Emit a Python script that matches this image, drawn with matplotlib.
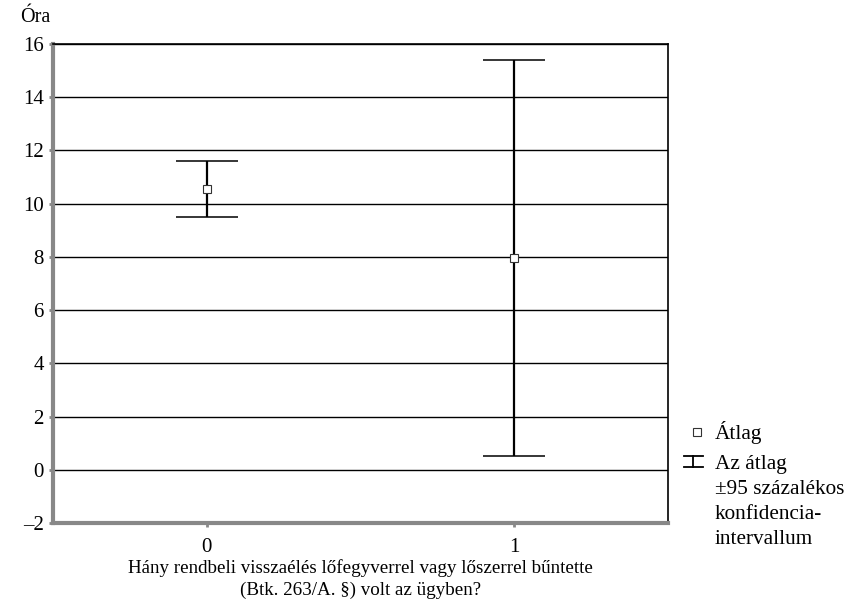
import matplotlib.pyplot as plt
from matplotlib.lines import Line2D

plt.rcParams['font.family'] = ['Liberation Serif', 'DejaVu Serif']
plt.rcParams['font.size'] = 14

groups = [0, 1]
means = [10.55, 7.95]
upper = [11.6, 15.4]
lower = [9.5, 0.5]
yticks = [-2, 0, 2, 4, 6, 8, 10, 12, 14, 16]

fig = plt.figure(figsize=(8.49, 6.08), dpi=100)
ax = fig.add_axes([53 / 849, 85 / 608, 615 / 849, 479 / 608])

err_low = [m - l for m, l in zip(means, lower)]
err_high = [u - m for u, m in zip(upper, means)]
ax.errorbar(groups, means, yerr=[err_low, err_high], fmt='none',
            ecolor='black', elinewidth=1.6, capsize=22, capthick=1.1, zorder=3)
ax.plot(groups, means, 's', markersize=5.5, markerfacecolor='white',
        markeredgecolor='#333333', markeredgewidth=0.8, zorder=4)

ax.set_xlim(-0.5, 1.5)
ax.set_ylim(-2, 16)
ax.set_yticks(yticks)
ax.set_yticklabels([str(t).replace('-', '\u2013') for t in yticks])
ax.set_xticks(groups)
ax.yaxis.grid(True, color='black', linewidth=1.0)
ax.set_axisbelow(True)

for s in ['left', 'bottom']:
    ax.spines[s].set_color('#888888')
    ax.spines[s].set_linewidth(3)
for s in ['top', 'right']:
    ax.spines[s].set_color('black')
    ax.spines[s].set_linewidth(1.2)
ax.tick_params(axis='both', colors='#888888', length=3, width=2, labelcolor='black', labelsize=15)
ax.tick_params(axis='x', pad=8)

ax.set_xlabel('Hány rendbeli visszaélés lőfegyverrel vagy lőszerrel bűntette\n(Btk. 263/A. §) volt az ügyben?',
              fontsize=13.7, labelpad=1, linespacing=1.42)
fig.text(20 / 849, 1 - 18 / 608, 'Óra', fontsize=14.5, ha='left', va='center')

# legend
fig.add_artist(Line2D([697 / 849], [1 - 432 / 608], marker='s', markersize=5.5,
                      markerfacecolor='white', markeredgecolor='#333333',
                      markeredgewidth=0.8, transform=fig.transFigure))
fig.text(715 / 849, 1 - 433 / 608, 'Átlag', fontsize=15.3, va='center')
x0, x1, xc = 684 / 849, 703 / 849, 693 / 849
yt, yb = 1 - 456 / 608, 1 - 467 / 608
for xs, ys in [([x0, x1], [yt, yt]), ([x0, x1], [yb, yb]), ([xc, xc], [yt, yb])]:
    fig.add_artist(Line2D(xs, ys, color='black', linewidth=1.3, transform=fig.transFigure))
fig.text(715 / 849, 1 - 455 / 608,
         'Az átlag\n±95 százalékos\nkonfidencia-\nintervallum',
         fontsize=15.3, va='top', linespacing=1.44)

fig.savefig('out.png', dpi=100)
